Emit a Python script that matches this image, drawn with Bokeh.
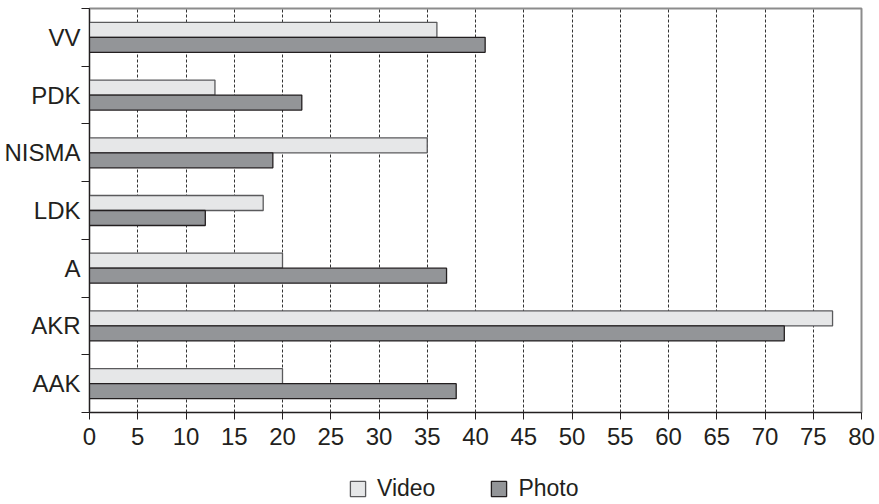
from bokeh.plotting import figure
from bokeh.layouts import column
from bokeh.models import Range1d, FixedTicker, Legend, LegendItem, ColumnDataSource
from bokeh.transform import dodge
from bokeh.embed import file_html
from bokeh.resources import INLINE

# data (bottom to top, as drawn)
categories = ["AAK", "AKR", "A", "LDK", "NISMA", "PDK", "VV"]
video = [20, 77, 20, 18, 35, 13, 36]
photo = [38, 72, 37, 12, 19, 22, 41]
x_ticks = [0, 5, 10, 15, 20, 25, 30, 35, 40, 45, 50, 55, 60, 65, 70, 75, 80]
series_names = ["Video", "Photo"]

FONT = "Liberation Sans"
TXT = "#231f20"
VIDEO_FILL, VIDEO_LINE = "#e6e7e8", "#5a5a5c"
PHOTO_FILL, PHOTO_LINE = "#939598", "#231f20"

n = len(categories)
centers = [i + 0.5 for i in range(n)]
source = ColumnDataSource(dict(yc=centers, cat=categories, video=video, photo=photo))

W = 877
p = figure(width=W, height=462, output_backend="svg", toolbar_location=None,
           x_range=Range1d(0, 80), y_range=Range1d(0, n),
           min_border_left=89, min_border_right=16, min_border_top=8,
           min_border_bottom=50)

p.outline_line_color = "#8c8c8c"
p.outline_line_width = 2

p.hbar(y=dodge("yc", 0.13, range=p.y_range), left=0, right="video",
       height=0.26, source=source, fill_color=VIDEO_FILL,
       line_color=VIDEO_LINE, line_width=1.3)
p.hbar(y=dodge("yc", -0.13, range=p.y_range), left=0, right="photo",
       height=0.26, source=source, fill_color=PHOTO_FILL,
       line_color=PHOTO_LINE, line_width=1.3)

# grid
p.ygrid.grid_line_color = None
p.xgrid.ticker = FixedTicker(ticks=x_ticks)
p.xgrid.grid_line_color = "#333333"
p.xgrid.grid_line_dash = "3 2"
p.xgrid.grid_line_width = 1

# x axis
xa = p.xaxis[0]
xa.ticker = FixedTicker(ticks=x_ticks)
xa.major_tick_out = 7
xa.major_tick_in = 0
xa.minor_tick_line_color = None
xa.axis_line_color = TXT
xa.major_tick_line_color = TXT
xa.major_label_text_font = FONT
xa.major_label_text_font_size = "24px"
xa.major_label_text_color = TXT
xa.major_label_standoff = 8

# y axis: labels at centers, ticks at boundaries
ya = p.yaxis[0]
ya.ticker = FixedTicker(ticks=centers, minor_ticks=list(range(n + 1)))
ya.major_label_overrides = {c: cat for c, cat in zip(centers, categories)}
ya.major_tick_line_color = None
ya.major_tick_out = 0
ya.major_tick_in = 0
ya.minor_tick_out = 8
ya.minor_tick_in = 0
ya.minor_tick_line_color = TXT
ya.axis_line_color = TXT
ya.major_label_text_font = FONT
ya.major_label_text_font_size = "24px"
ya.major_label_text_color = TXT
ya.major_label_standoff = 1

# legend strip (same series, hidden renderers; only the legend swatches show)
lg = figure(width=W, height=40, output_backend="svg", toolbar_location=None,
            x_range=Range1d(0, 80), y_range=Range1d(0, n),
            x_axis_type=None, y_axis_type=None,
            min_border_left=0, min_border_right=0, min_border_top=0,
            min_border_bottom=0)
lg.outline_line_color = None
lg.xgrid.visible = False
lg.ygrid.visible = False
sw_v = lg.hbar(y="yc", left=0, right="video", height=0.26, source=source,
               fill_color=VIDEO_FILL, line_color=VIDEO_LINE, line_width=1.3,
               visible=False)
sw_p = lg.hbar(y="yc", left=0, right="photo", height=0.26, source=source,
               fill_color=PHOTO_FILL, line_color=PHOTO_LINE, line_width=1.3,
               visible=False)
legend = Legend(items=[LegendItem(label=series_names[0], renderers=[sw_v]),
                       LegendItem(label=series_names[1], renderers=[sw_p])],
                orientation="horizontal", location=(259, 0), spacing=54,
                glyph_width=19, glyph_height=19, label_standoff=10,
                border_line_color=None, background_fill_alpha=0,
                inactive_fill_alpha=0,
                label_text_font=FONT, label_text_font_size="23px",
                label_text_color=TXT, padding=0, margin=0)
lg.add_layout(legend)

open("out.html", "w").write(file_html(column(p, lg, spacing=0), INLINE))
